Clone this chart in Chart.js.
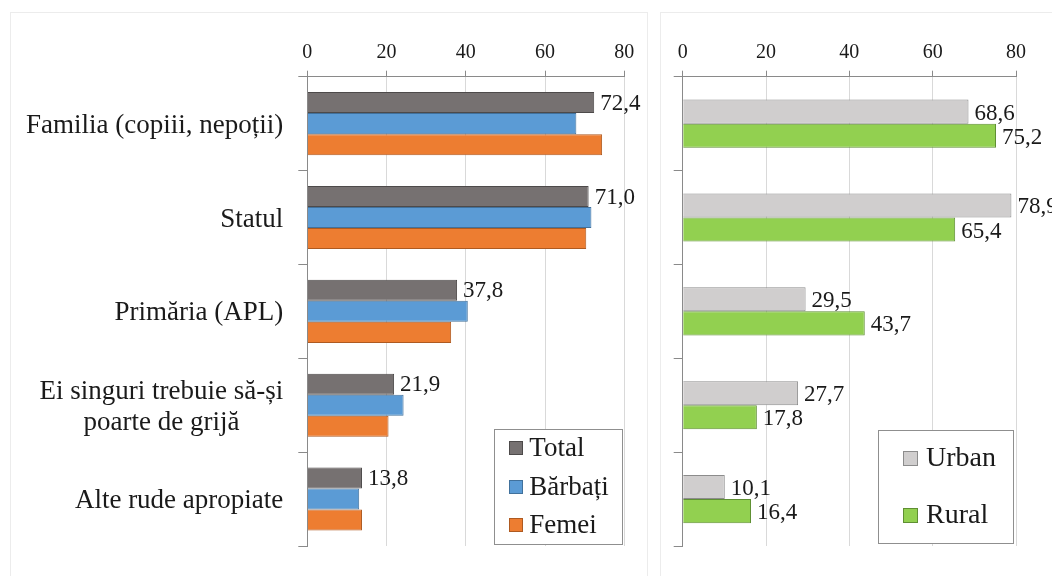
<!DOCTYPE html>
<html>
<head>
<meta charset="utf-8">
<script src="https://cdn.jsdelivr.net/npm/chart.js@4"></script>
<style>
  html, body { margin: 0; padding: 0; background: #fff; }
  body { width: 1052px; height: 576px; overflow: hidden; position: relative; }
  .panel { position: absolute; border: 1px solid #ececec; background: #fff; }
  #panelL { left: 10px; top: 12px; width: 636px; height: 580px; }
  #panelR { left: 660px; top: 12px; width: 420px; height: 580px; }
  canvas { position: absolute; top: 0; }
  #chartL { left: 0; }
  #chartR { left: 660px; }
</style>
</head>
<body>
<div class="panel" id="panelL"></div>
<div class="panel" id="panelR"></div>
<canvas id="chartL" width="650" height="576" style="width:650px;height:576px"></canvas>
<canvas id="chartR" width="400" height="576" style="width:400px;height:576px"></canvas>
<script>
// Categories of support and the shares (%) for each group
const categories = [
  'Familia (copiii, nepoții)',
  'Statul',
  'Primăria (APL)',
  ['Ei singuri trebuie să-și', 'poarte de grijă'],
  'Alte rude apropiate'
];
const totalValues   = [72.4, 71.0, 37.8, 21.9, 13.8];
const barbatiValues = [67.9, 71.7, 40.5, 24.3, 13.1];
const femeiValues   = [74.4, 70.4, 36.3, 20.5, 13.8];
const urbanValues   = [68.6, 78.9, 29.5, 27.7, 10.1];
const ruralValues   = [75.2, 65.4, 43.7, 17.8, 16.4];
const xTickValues   = [0, 20, 40, 60, 80];

const SERIF = "'Liberation Serif', 'Times New Roman', serif";
const TEXT = '#1a1a1a';

const fmt = v => v.toFixed(1).replace('.', ',');

// Value labels at the end of bars of datasets flagged with showValues
const valueLabels = {
  id: 'valueLabels',
  afterDatasetsDraw(chart, args, opts) {
    const ctx = chart.ctx;
    ctx.save();
    ctx.font = `${opts.size}px ${SERIF}`;
    ctx.fillStyle = TEXT;
    ctx.textAlign = 'left';
    ctx.textBaseline = 'middle';
    chart.data.datasets.forEach((ds, di) => {
      if (!ds.showValues) return;
      chart.getDatasetMeta(di).data.forEach((el, i) => {
        ctx.fillText(fmt(ds.data[i]), el.x + opts.gap, el.y + opts.dy);
      });
    });
    ctx.restore();
  }
};

// Category names: block right-aligned to the axis, lines centred inside the block
const categoryLabels = {
  id: 'categoryLabels',
  afterDraw(chart, args, opts) {
    if (!opts.show) return;
    const ctx = chart.ctx;
    const y = chart.scales.y;
    ctx.save();
    ctx.font = `${opts.size}px ${SERIF}`;
    ctx.fillStyle = TEXT;
    ctx.textAlign = 'center';
    ctx.textBaseline = 'middle';
    chart.data.labels.forEach((lab, i) => {
      const lines = Array.isArray(lab) ? lab : [lab];
      const w = Math.max(...lines.map(l => ctx.measureText(l).width));
      const cx = chart.chartArea.left - opts.offset - w / 2;
      const cy = y.getPixelForTick(i) + opts.dy;
      lines.forEach((l, k) => {
        ctx.fillText(l, cx, cy + (k - (lines.length - 1) / 2) * opts.lineGap);
      });
    });
    ctx.restore();
  }
};

// Boxed legend inside the lower right corner of the plot area
const boxLegend = {
  id: 'boxLegend',
  afterDraw(chart, args, o) {
    const ctx = chart.ctx;
    const a = chart.chartArea;
    const bx = a.right - o.right - o.width;
    const by = a.bottom - o.bottom - o.height;
    ctx.save();
    ctx.fillStyle = '#fff';
    ctx.fillRect(bx, by, o.width, o.height);
    ctx.strokeStyle = '#8f8f8f';
    ctx.lineWidth = 1;
    ctx.strokeRect(Math.round(bx) + 0.5, Math.round(by) + 0.5, Math.round(o.width), Math.round(o.height));
    ctx.font = `${o.size}px ${SERIF}`;
    ctx.textAlign = 'left';
    ctx.textBaseline = 'middle';
    chart.data.datasets.forEach((ds, i) => {
      const cy = by + o.firstY + i * o.rowGap;
      const mx = Math.round(bx + o.markerX);
      const my = Math.round(cy - o.marker / 2);
      ctx.fillStyle = ds.backgroundColor;
      ctx.fillRect(mx, my, o.marker, o.marker);
      ctx.strokeStyle = ds.borderColor;
      ctx.strokeRect(mx + 0.5, my + 0.5, o.marker - 1, o.marker - 1);
      ctx.fillStyle = TEXT;
      ctx.fillText(ds.label, bx + o.textX, cy + 1);
    });
    ctx.restore();
  }
};

function makeScales(yWidth) {
  return {
    x: {
      type: 'linear',
      position: 'top',
      min: 0,
      max: 80,
      afterBuildTicks: s => { s.ticks = xTickValues.map(v => ({ value: v })); },
      afterFit: s => { s.height = 50; },
      grid: { color: '#d9d9d9', tickColor: '#8a8a8a', tickLength: 6, lineWidth: 1 },
      border: { color: '#8a8a8a' },
      ticks: { color: TEXT, font: { family: SERIF, size: 20 }, padding: 6 }
    },
    y: {
      type: 'category',
      offset: true,
      afterFit: s => { s.width = yWidth; },
      grid: { offset: true, drawOnChartArea: false, tickColor: '#8a8a8a', tickLength: 9 },
      border: { color: '#8a8a8a' },
      ticks: { display: false }
    }
  };
}

Chart.defaults.animation = false;

new Chart(document.getElementById('chartL'), {
  type: 'bar',
  data: {
    labels: categories,
    datasets: [
      { label: 'Total', data: totalValues, backgroundColor: '#767171', borderColor: '#4d4a4a', showValues: true },
      { label: 'Bărbați', data: barbatiValues, backgroundColor: '#5b9bd5', borderColor: '#41719c' },
      { label: 'Femei', data: femeiValues, backgroundColor: '#ed7d31', borderColor: '#ae5a21' }
    ]
  },
  options: {
    indexAxis: 'y',
    responsive: false,
    devicePixelRatio: 1,
    layout: { padding: { left: 0, top: 26.7, right: 25.7, bottom: 30 } },
    datasets: { bar: { borderWidth: 1, categoryPercentage: 0.672, barPercentage: 1 } },
    scales: makeScales(307.3),
    plugins: {
      legend: { display: false },
      tooltip: { enabled: false },
      valueLabels: { size: 23, gap: 6, dy: 1 },
      categoryLabels: { show: true, size: 27, offset: 24, lineGap: 31, dy: 2 },
      boxLegend: { right: 2, bottom: 2, width: 128, height: 115, firstY: 19, rowGap: 38.5,
                   markerX: 14.5, marker: 14, textX: 35, size: 27 }
    }
  },
  plugins: [valueLabels, categoryLabels, boxLegend]
});

new Chart(document.getElementById('chartR'), {
  type: 'bar',
  data: {
    labels: categories,
    datasets: [
      { label: 'Urban', data: urbanValues, backgroundColor: '#d0cece', borderColor: '#8c8c8c', showValues: true },
      { label: 'Rural', data: ruralValues, backgroundColor: '#92d050', borderColor: '#5f8f33', showValues: true }
    ]
  },
  options: {
    indexAxis: 'y',
    responsive: false,
    devicePixelRatio: 1,
    layout: { padding: { left: 0, top: 26.7, right: 44, bottom: 30 } },
    datasets: { bar: { borderWidth: 1, categoryPercentage: 0.513, barPercentage: 1 } },
    scales: makeScales(22.7),
    plugins: {
      legend: { display: false },
      tooltip: { enabled: false },
      valueLabels: { size: 23, gap: 6, dy: 2 },
      categoryLabels: { show: false },
      boxLegend: { right: 3, bottom: 3, width: 135, height: 113, firstY: 28, rowGap: 57,
                   markerX: 24.7, marker: 15, textX: 48, size: 28 }
    }
  },
  plugins: [valueLabels, categoryLabels, boxLegend]
});
</script>
</body>
</html>
